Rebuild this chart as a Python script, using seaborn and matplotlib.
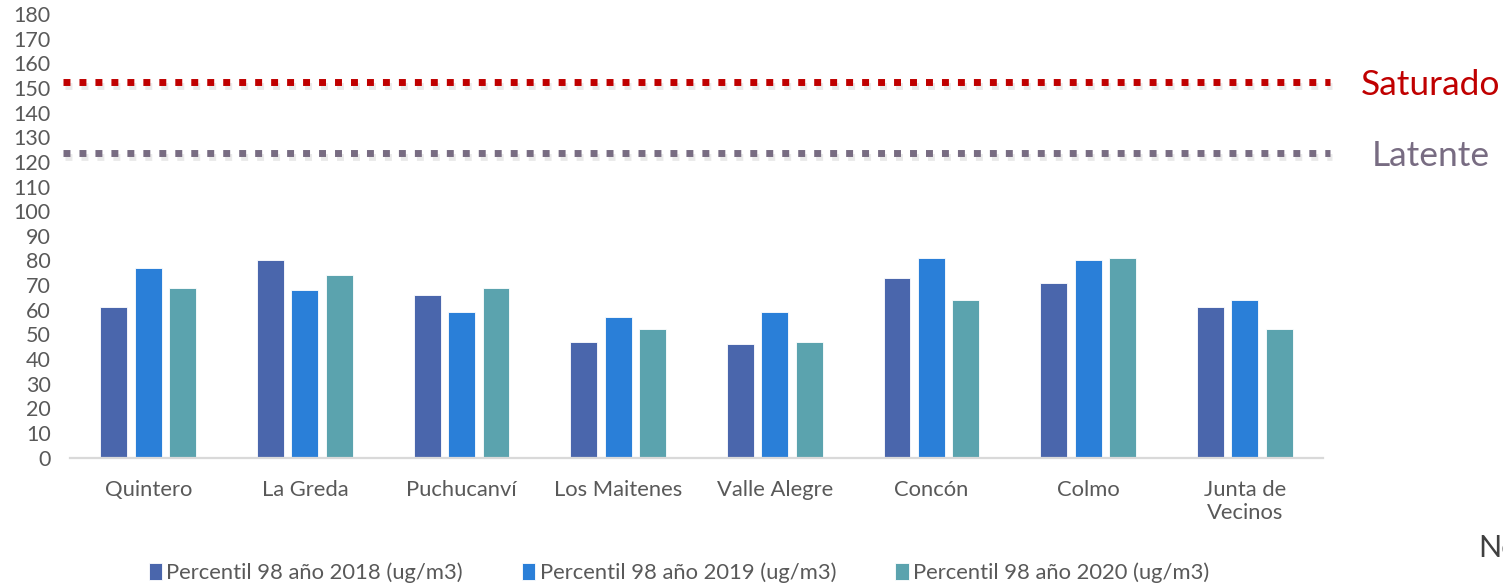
import numpy as np
import pandas as pd
import matplotlib.pyplot as plt
import matplotlib.patheffects as pe
import seaborn as sns

# Data
estaciones = ['Quintero', 'La Greda', 'Puchucanví', 'Los Maitenes', 'Valle Alegre',
              'Concón', 'Colmo', 'Junta de\nVecinos']
p98_2018 = [61, 80, 66, 47, 46, 73, 71, 61]
p98_2019 = [77, 68, 59, 57, 59, 81, 80, 64]
p98_2020 = [69, 74, 69, 52, 47, 64, 81, 52]
series = ['Percentil 98 año 2018 (ug/m3)', 'Percentil 98 año 2019 (ug/m3)',
          'Percentil 98 año 2020 (ug/m3)']
umbral_nombres = ['Saturado', 'Latente']
umbral_valores = [152.5, 123.7]
yticks = list(range(0, 190, 10))

colors = ['#4A66AC', '#2A7FD8', '#5BA3AE']
umbral_colors = ['#C00000', '#786C82']

df = pd.DataFrame({
    'estacion': estaciones * 3,
    'valor': p98_2018 + p98_2019 + p98_2020,
    'serie': [series[0]] * 8 + [series[1]] * 8 + [series[2]] * 8,
})

sns.set_style('white')
plt.rcParams['font.family'] = ['Lato', 'DejaVu Sans']
gray = '#595959'

fig = plt.figure(figsize=(15.03, 5.86), dpi=100)
ax = fig.add_axes([70 / 1503, 1 - 457.5 / 586, (1323 - 70) / 1503, (457.5 - 14.2) / 586])

sns.barplot(data=df, x='estacion', y='valor', hue='serie', palette=colors,
            saturation=1, width=0.66, gap=0.22, ax=ax, edgecolor='white',
            linewidth=0.6, legend=True)

ax.set_xlim(-0.5, 7.5)
ax.set_ylim(0, 180)
ax.set_yticks(yticks)
ax.set_xlabel('')
ax.set_ylabel('')
ax.tick_params(axis='y', length=0, pad=14, labelsize=15.5, labelcolor=gray)
ax.tick_params(axis='x', length=0, pad=16, labelsize=15.8, labelcolor=gray)
for s in ['top', 'right', 'left']:
    ax.spines[s].set_visible(False)
ax.spines['bottom'].set_color('#D9D9D9')
ax.spines['bottom'].set_linewidth(1.6)

# threshold lines (dotted, with soft shadow)
x0 = -0.5 - 7 / 156.6
x1 = 7.5 + 7 / 156.6
for nombre, val, c in zip(umbral_nombres, umbral_valores, umbral_colors):
    ax.plot([x0, x1], [val, val], color=c, lw=5, ls=(0, (1, 1.3)),
            solid_capstyle='butt', dash_capstyle='butt', clip_on=False, zorder=5,
            path_effects=[pe.SimpleLineShadow(offset=(1.5, -3), alpha=0.12,
                                              shadow_color='#555555'),
                          pe.Normal()])
    ax.annotate(nombre, xy=(1431 / 1503, val), xycoords=('figure fraction', 'data'),
                ha='center', va='center_baseline', fontsize=25.5, color=c)

# legend
handles, labels = ax.get_legend_handles_labels()
ax.get_legend().remove()
fig.legend(handles, labels, loc='center left', bbox_to_anchor=(129 / 1503, 1 - 573 / 586),
           ncol=3, frameon=False, fontsize=15.8, labelcolor=gray,
           handlelength=0.6, handleheight=0.8, handletextpad=0.2, columnspacing=2.7)

fig.text(1478 / 1503, 1 - 548 / 586, 'Ne', fontsize=22, color='#404040',
         ha='left', va='center')

fig.savefig('out.png', dpi=100)
